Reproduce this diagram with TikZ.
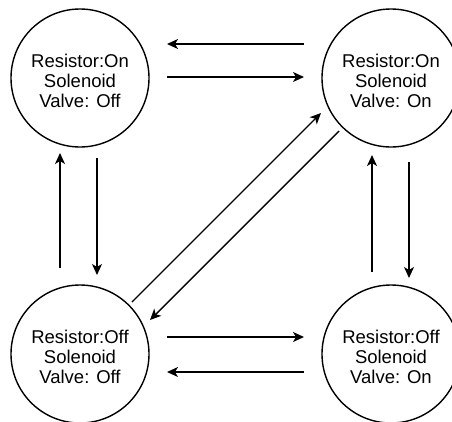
\documentclass[tikz,border=0pt]{standalone}
\usepackage{fontspec}
\setmainfont{Liberation Sans}
\usetikzlibrary{arrows.meta,calc}

\tikzset{
  state/.style={circle, draw, line width=1.4pt, minimum size=138pt, inner sep=0pt,
    align=center, font=\fontsize{18.5}{20}\selectfont},
  arr/.style={line width=1.4pt, -{Stealth[length=11pt,width=10pt,inset=3pt]}},
}
% invisible strut that lowers the three text lines a little inside a circle
\newcommand{\lowerstrut}{\rule{0pt}{20pt}}

\begin{document}
\begin{tikzpicture}[x=1pt, y=-1pt]
  \useasboundingbox (0,0) rectangle (452,421);
  \clip (0,0) rectangle (452,421);

  % the four states
  \node[state] (tl) at (80,78)  {\lowerstrut Resistor:On\\Solenoid\\Valve: Off};
  \node[state] (tr) at (391,78) {\lowerstrut Resistor:On\\Solenoid\\Valve: On};
  \node[state] (bl) at (80,354) {\lowerstrut Resistor:Off\\Solenoid\\Valve: Off};
  \node[state] (br) at (391,354) {\lowerstrut Resistor:Off\\Solenoid\\Valve: On};

  % top pair
  \draw[arr] ($(tr.center)+(-87,-34)$) -- ($(tl.center)+(87,-34)$);
  \draw[arr] ($(tl.center)+(87,-1)$) -- ($(tr.center)+(-87,-1)$);

  % bottom pair
  \draw[arr] ($(bl.center)+(87,-17)$) -- ($(br.center)+(-87,-17)$);
  \draw[arr] ($(br.center)+(-87,18)$) -- ($(bl.center)+(87,18)$);

  % left pair
  \draw[arr] ($(bl.center)+(-20,-86)$) -- ($(tl.center)+(-20,75)$);
  \draw[arr] ($(tl.center)+(17,80)$) -- ($(bl.center)+(17,-79)$);

  % right pair
  \draw[arr] ($(br.center)+(-19,-82)$) -- ($(tr.center)+(-19,77)$);
  \draw[arr] ($(tr.center)+(18,84)$) -- ($(br.center)+(18,-76)$);

  % diagonal pair
  \draw[arr] ($(bl.center)+(52,-52)$) -- ($(tr.center)+(-70,35)$);
  \draw[arr] ($(tr.center)+(-52,53)$) -- ($(bl.center)+(70,-34)$);
\end{tikzpicture}
\end{document}
